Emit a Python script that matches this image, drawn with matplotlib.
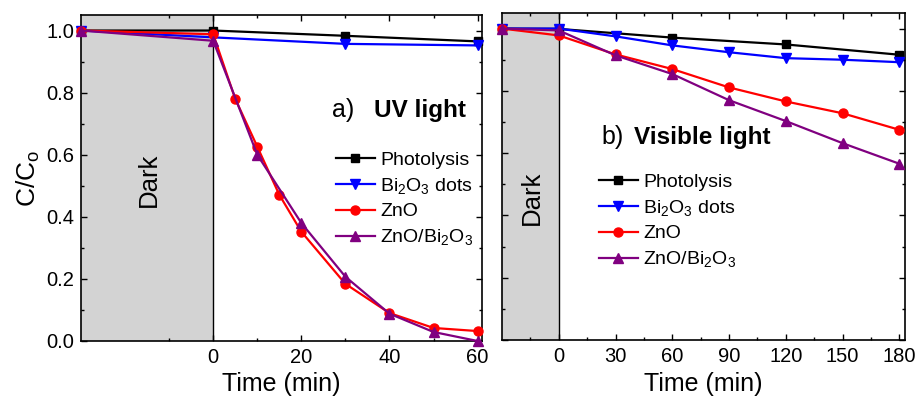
import matplotlib
matplotlib.use("Agg")
import matplotlib.pyplot as plt
from matplotlib.ticker import FixedLocator

plt.rcParams['font.family'] = ['Liberation Sans', 'DejaVu Sans']
plt.rcParams['mathtext.fontset'] = 'custom'
plt.rcParams['mathtext.rm'] = 'Liberation Sans'
plt.rcParams['mathtext.it'] = 'Liberation Sans'
plt.rcParams['mathtext.bf'] = 'Liberation Sans:bold'
plt.rcParams['mathtext.default'] = 'regular'

# ---- Panel a: UV light ----
uv_photo_t = [-30, 0, 30, 60]
uv_photo = [1.0, 1.0, 0.983, 0.965]
uv_bi_t = [-30, 0, 30, 60]
uv_bi = [1.0, 0.978, 0.957, 0.952]
uv_zno_t = [-30, 0, 5, 10, 15, 20, 30, 40, 50, 60]
uv_zno = [1.0, 0.988, 0.78, 0.626, 0.471, 0.352, 0.184, 0.09, 0.042, 0.032]
uv_comp_t = [-30, 0, 10, 20, 30, 40, 50, 60]
uv_comp = [1.0, 0.967, 0.60, 0.38, 0.207, 0.088, 0.029, 0.0]

# ---- Panel b: Visible light ----
vis_t = [-30, 0, 30, 60, 90, 120, 150, 180]
vis_photo_t = [-30, 0, 60, 120, 180]
vis_photo = [1.0, 0.999, 0.971, 0.949, 0.916]
vis_bi = [1.0, 1.0, 0.975, 0.946, 0.924, 0.905, 0.900, 0.892]
vis_zno = [1.0, 0.978, 0.917, 0.870, 0.811, 0.766, 0.728, 0.675]
vis_comp = [1.0, 0.994, 0.914, 0.854, 0.770, 0.703, 0.632, 0.566]

labels = ['Photolysis', r'Bi$_2$O$_3$ dots', 'ZnO', r'ZnO/Bi$_2$O$_3$']
colors = ['black', '#0000ff', '#ff0000', '#800080']
markers = ['s', 'v', 'o', '^']
msizes = [5.5, 6.5, 6.5, 6.5]

fig = plt.figure(figsize=(9.17, 4.08), dpi=100)
axA = fig.add_axes([81/917, 1-341/408, (482-81)/917, (341-15)/408])
axB = fig.add_axes([502/917, 1-340/408, (905-502)/917, (340-13)/408])

def style(ax):
    for s in ax.spines.values():
        s.set_linewidth(1.2)
    ax.tick_params(which='both', direction='in', top=True, right=True, width=1.0)
    ax.tick_params(which='major', length=4.5, labelsize=14.5, pad=5)
    ax.tick_params(which='minor', length=2.5)
    ax.set_ylim(0, 1.05)
    ax.yaxis.set_major_locator(FixedLocator([0, 0.2, 0.4, 0.6, 0.8, 1.0]))
    ax.yaxis.set_minor_locator(FixedLocator([0.1, 0.3, 0.5, 0.7, 0.9]))

leg_kw = dict(loc='upper left', frameon=False, fontsize=14,
              handlelength=2.0, handletextpad=0.3, labelspacing=0.36,
              borderpad=0, borderaxespad=0)

# Panel a
axA.axvspan(-30, 0, color='#d3d3d3', zorder=0, lw=0)
axA.axvline(0, color='black', lw=1.0, zorder=1)
series_a = [(uv_photo_t, uv_photo), (uv_bi_t, uv_bi), (uv_zno_t, uv_zno), (uv_comp_t, uv_comp)]
for (t, v), c, m, ms, lab in zip(series_a, colors, markers, msizes, labels):
    axA.plot(t, v, color=c, marker=m, ms=ms, lw=1.6, label=lab, clip_on=False, zorder=3)
axA.set_xlim(-30, 61)
axA.xaxis.set_major_locator(FixedLocator([0, 20, 40, 60]))
axA.xaxis.set_minor_locator(FixedLocator([-10, 10, 30, 50]))
style(axA)
axA.set_yticklabels(['0.0', '0.2', '0.4', '0.6', '0.8', '1.0'])
axA.set_xlabel('Time (min)', fontsize=18, labelpad=4)
axA.set_ylabel(r'C/C$_o$', fontsize=19, labelpad=3)
axA.text(-14.5, 0.52, 'Dark', rotation=90, fontsize=18.5, ha='center', va='center')
axA.text(27, 0.72, 'a)', fontsize=18, ha='left', va='baseline')
axA.text(36.5, 0.72, 'UV light', fontsize=17.5, fontweight='bold', ha='left', va='baseline')
axA.legend(bbox_to_anchor=(0.635, 0.582), **leg_kw)

# Panel b
axB.axvspan(-30, 0, color='#d3d3d3', zorder=0, lw=0)
axB.axvline(0, color='black', lw=1.0, zorder=1)
series_b = [(vis_photo_t, vis_photo), (vis_t, vis_bi), (vis_t, vis_zno), (vis_t, vis_comp)]
for (t, v), c, m, ms, lab in zip(series_b, colors, markers, msizes, labels):
    axB.plot(t, v, color=c, marker=m, ms=ms, lw=1.6, label=lab, clip_on=False, zorder=3)
axB.set_xlim(-30, 183)
axB.xaxis.set_major_locator(FixedLocator([0, 30, 60, 90, 120, 150, 180]))
axB.xaxis.set_minor_locator(FixedLocator([-15, 15, 45, 75, 105, 135, 165]))
style(axB)
axB.set_yticklabels([])
axB.set_xlabel('Time (min)', fontsize=18, labelpad=4)
axB.text(-14, 0.458, 'Dark', rotation=90, fontsize=18.5, ha='center', va='center')
axB.text(22.5, 0.628, 'b)', fontsize=18, ha='left', va='baseline')
axB.text(40, 0.628, 'Visible light', fontsize=17.5, fontweight='bold', ha='left', va='baseline')
axB.legend(bbox_to_anchor=(0.24, 0.51), **leg_kw)

fig.savefig('out.png', dpi=100)
